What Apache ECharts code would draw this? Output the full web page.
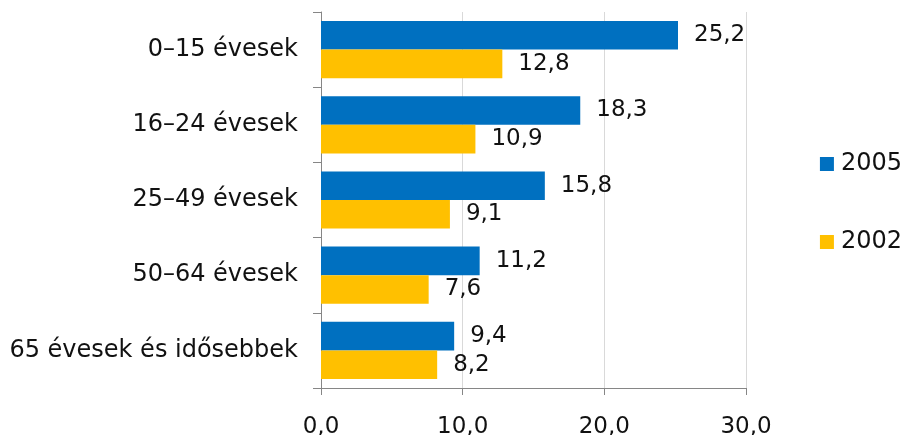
<!DOCTYPE html>
<html>
<head>
<meta charset="utf-8">
<script src="https://cdn.jsdelivr.net/npm/echarts@6/dist/echarts.min.js"></script>
<style>
	html, body { margin: 0; padding: 0; background: #fff; }
	#chart { width: 910px; height: 435px; }
</style>
</head>
<body>
<div id="chart"></div>
<script>
	// korcsoportok
	var categories = ['0–15 évesek', '16–24 évesek', '25–49 évesek', '50–64 évesek', '65 évesek és idősebbek'];
	var values2005 = [25.2, 18.3, 15.8, 11.2, 9.4];
	var values2002 = [12.8, 10.9, 9.1, 7.6, 8.2];
	var xTicks = [0, 10, 20, 30];

	var font = 'DejaVu Sans';
	var ink = '#111';
	var fmt = function (v) { return Number(v).toFixed(1).replace('.', ','); };

	var chart = echarts.init(document.getElementById('chart'));
	var option = {
		animation: false,
		textStyle: { fontFamily: font },
		grid: { left: 321, right: 164, top: 12, bottom: 47, outerBoundsMode: 'none' },
		legend: {
			orient: 'vertical',
			right: 3,
			top: 147,
			itemWidth: 14,
			itemHeight: 14,
			itemGap: 54,
			icon: 'rect',
			data: ['2005', '2002'],
			textStyle: { fontFamily: font, fontSize: 24, color: ink, padding: [0, 0, 0, 2] }
		},
		xAxis: {
			type: 'value',
			min: xTicks[0],
			max: xTicks[xTicks.length - 1],
			interval: 10,
			axisLine: { show: true, lineStyle: { color: '#868686' } },
			axisTick: { show: true, length: 7, lineStyle: { color: '#868686' } },
			splitLine: { lineStyle: { color: '#d9d9d9' } },
			axisLabel: { margin: 28, fontSize: 23, color: ink, fontFamily: font, formatter: fmt }
		},
		yAxis: {
			type: 'category',
			inverse: true,
			data: categories,
			axisLine: { lineStyle: { color: '#868686' } },
			axisTick: { show: true, length: 8, lineStyle: { color: '#868686' } },
			axisLabel: { margin: 23, fontSize: 24, color: ink, fontFamily: font }
		},
		series: [
			{
				name: '2005',
				type: 'bar',
				data: values2005,
				barGap: '0%',
				barCategoryGap: '24%',
				itemStyle: { color: '#0070C0' },
				label: { show: true, position: 'right', distance: 16, fontSize: 23, color: ink, fontFamily: font, formatter: function (p) { return fmt(p.value); } }
			},
			{
				name: '2002',
				type: 'bar',
				data: values2002,
				barGap: '0%',
				barCategoryGap: '24%',
				itemStyle: { color: '#FFC000' },
				label: { show: true, position: 'right', distance: 16, fontSize: 23, color: ink, fontFamily: font, formatter: function (p) { return fmt(p.value); } }
			}
		]
	};
	chart.setOption(option);
</script>
</body>
</html>
